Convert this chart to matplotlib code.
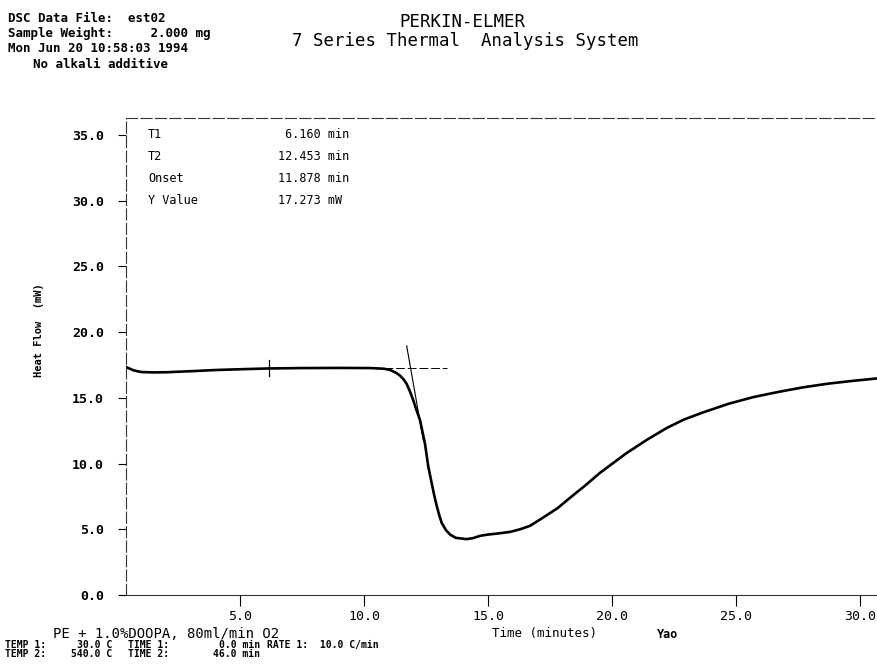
import matplotlib
matplotlib.use("Agg")
import matplotlib.pyplot as plt

# DSC scan, est02
time_min = [0.40, 0.70, 1.00, 1.50, 2.00, 3.00, 4.00, 5.00, 6.16, 7.50, 9.00,
            10.25, 10.80, 11.05, 11.30, 11.45, 11.60, 11.72, 11.85, 11.99, 12.12,
            12.26, 12.36, 12.46, 12.59, 12.73, 12.83, 12.93, 13.03, 13.13, 13.30,
            13.47, 13.70, 14.14, 14.40, 14.68, 15.00, 15.35, 15.89, 16.29, 16.69,
            17.23, 17.80, 18.31, 18.90, 19.52, 20.59, 21.40, 22.20, 22.90, 23.68,
            24.70, 25.70, 26.70, 27.70, 28.70, 29.73, 30.69]
heat_flow = [17.35, 17.10, 16.97, 16.94, 16.95, 17.03, 17.12, 17.18, 17.24, 17.27, 17.28,
             17.27, 17.22, 17.13, 16.90, 16.70, 16.40, 16.06, 15.50, 14.80, 14.05,
             13.30, 12.40, 11.50, 9.80, 8.50, 7.60, 6.80, 6.10, 5.50, 4.95,
             4.60, 4.35, 4.25, 4.33, 4.50, 4.60, 4.67, 4.80, 5.00, 5.26,
             5.90, 6.60, 7.40, 8.30, 9.30, 10.80, 11.80, 12.70, 13.35, 13.90,
             14.55, 15.06, 15.45, 15.80, 16.08, 16.30, 16.48]

t1 = 6.160
t2 = 12.453
onset = 11.878
y_value = 17.273
baseline_x = [10.8, 13.35]
tangent_x = [11.72, 12.40]
tangent_slope = -10.7

xticks = [5, 10, 15, 20, 25, 30]
yticks = [0, 5, 10, 15, 20, 25, 30, 35]

W, H = 877, 666
fig = plt.figure(figsize=(W / 100, H / 100), dpi=100)

def px(x, y):
    return x / W, 1 - y / H

mono = "DejaVu Sans Mono"

ax = fig.add_axes([126 / W, 71 / H, (W - 126) / W, (595 - 118) / H])
ax.plot(time_min, heat_flow, color="black", lw=1.9)
ax.set_xlim(0.4, 30.69)
ax.set_ylim(0, 36.3)

# T1 marker, baseline and onset tangent
ax.plot([t1, t1], [y_value - 0.6, y_value + 0.6], color="black", lw=0.9)
ax.plot(baseline_x, [y_value, y_value], color="black", lw=0.7, ls=(0, (9, 3)))
ax.plot(tangent_x, [y_value + tangent_slope * (x - onset) for x in tangent_x],
        color="black", lw=0.8)

ax.set_xticks(xticks)
ax.set_xticklabels([f"{v:.1f}" for v in xticks], family=mono, fontsize=9.5)
ax.set_yticks(yticks)
ax.set_yticklabels([f"{v:.1f}" for v in yticks], family=mono, fontsize=9.5,
                   fontweight="bold")
ax.tick_params(axis="x", direction="out", length=8, width=0.8, pad=3)
ax.tick_params(axis="y", direction="out", length=6, width=0.8, pad=10)
ax.spines["right"].set_visible(False)
ax.spines["top"].set_linestyle((0, (10, 3)))
ax.spines["left"].set_linestyle((0, (10, 3)))
for s in ["top", "left", "bottom"]:
    ax.spines[s].set_linewidth(0.8)
    ax.spines[s].set_color("#333333")

# results table
rows = [("T1", " 6.160 min"), ("T2", "12.453 min"),
        ("Onset", "11.878 min"), ("Y Value", "17.273 mW")]
for i, (lab, val) in enumerate(rows):
    yy = 135 + i * 21.7
    fig.text(*px(148, yy), lab, family=mono, fontsize=8.5, va="center")
    fig.text(*px(278, yy), val, family=mono, fontsize=8.5, va="center")

# header
hdr = ["DSC Data File:  est02", "Sample Weight:     2.000 mg",
       "Mon Jun 20 10:58:03 1994"]
for i, line in enumerate(hdr):
    fig.text(*px(8, 18 + i * 15.5), line, family=mono, fontsize=9,
             fontweight="bold", va="center")
fig.text(*px(33, 65), "No alkali additive", family=mono, fontsize=9,
         fontweight="bold", va="center")
fig.text(*px(462, 22), "PERKIN-ELMER", family=mono, fontsize=12.5,
         ha="center", va="center")
fig.text(*px(465, 41), "7 Series Thermal  Analysis System", family=mono,
         fontsize=12.5, ha="center", va="center")

# axis captions
fig.text(*px(39, 330), "Heat Flow  (mW)", family=mono, fontsize=7.5,
         fontweight="bold", rotation=90, ha="center", va="center")
fig.text(*px(545, 634), "Time (minutes)", family=mono, fontsize=9,
         ha="center", va="center")
fig.text(*px(668, 634), "Yao", family=mono, fontsize=8.5, fontweight="bold",
         ha="center", va="center")

# method footer
fig.text(*px(53, 634), "PE + 1.0%DOOPA, 80ml/min O2", family=mono,
         fontsize=10, va="center")
foot = dict(family=mono, fontsize=7, fontweight="bold", va="center")
fig.text(*px(5, 645), "TEMP 1:", **foot)
fig.text(*px(112, 645), "30.0 C", ha="right", **foot)
fig.text(*px(128, 645), "TIME 1:", **foot)
fig.text(*px(260, 645), "0.0 min", ha="right", **foot)
fig.text(*px(267, 645), "RATE 1:  10.0 C/min", **foot)
fig.text(*px(5, 654), "TEMP 2:", **foot)
fig.text(*px(112, 654), "540.0 C", ha="right", **foot)
fig.text(*px(128, 654), "TIME 2:", **foot)
fig.text(*px(260, 654), "46.0 min", ha="right", **foot)

fig.savefig("out.png", dpi=100)
